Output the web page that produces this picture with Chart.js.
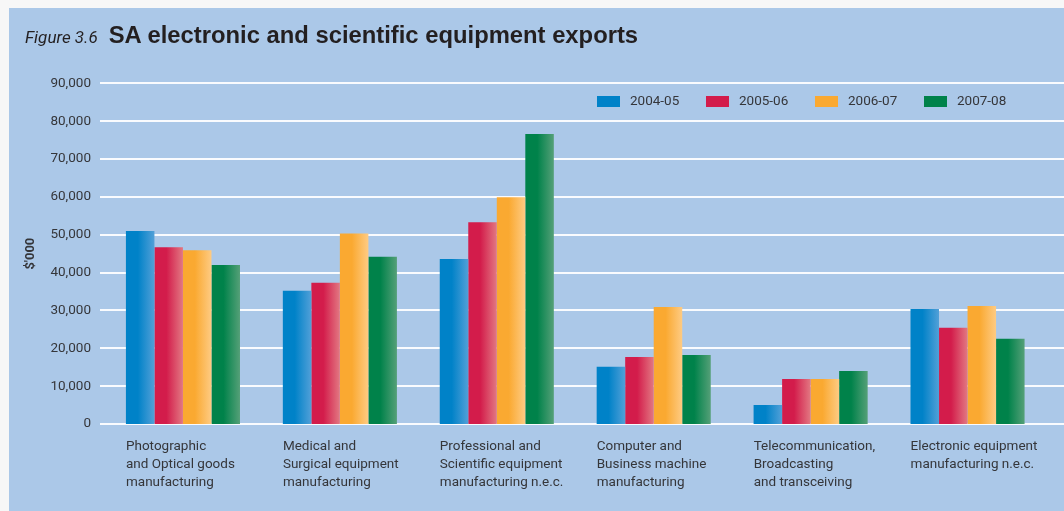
<!DOCTYPE html>
<html lang="en">
<head>
<meta charset="UTF-8">
<title>SA electronic and scientific equipment exports</title>
<script src="https://cdn.jsdelivr.net/npm/chart.js@4.4.6/dist/chart.umd.min.js"></script>
<style>
  html, body { margin: 0; padding: 0; }
  body {
    width: 1064px;
    height: 511px;
    background: #f7f7f7;
    position: relative;
    overflow: hidden;
  }
  .panel {
    position: absolute;
    left: 9px; top: 8px; right: 0; bottom: 0;
    background: #abc8e8;
  }
  .title {
    position: absolute;
    left: 25px; top: 21px;
    display: flex;
    align-items: baseline;
    white-space: nowrap;
    color: #231f20;
  }
  .title .fig  { font: italic 17px Roboto, 'DejaVu Sans Condensed', sans-serif; }
  .title .name { font: bold 23.8px 'Liberation Sans', Arial, sans-serif; margin-left: 11px; }
  .wrap { position: absolute; left: 0; top: 0; width: 1064px; height: 511px; }
</style>
</head>
<body>
<div class="panel"></div>
<div class="wrap"><canvas id="chart"></canvas></div>
<div class="title"><span class="fig">Figure 3.6</span><span class="name">SA electronic and scientific equipment exports</span></div>

<script>
// ── Data ($'000) ─────────────────────────────────────────────────────────────
const categories = [
  ['Photographic', 'and Optical goods', 'manufacturing'],
  ['Medical and', 'Surgical equipment', 'manufacturing'],
  ['Professional and', 'Scientific equipment', 'manufacturing n.e.c.'],
  ['Computer and', 'Business machine', 'manufacturing'],
  ['Telecommunication,', 'Broadcasting', 'and transceiving'],
  ['Electronic equipment', 'manufacturing n.e.c.'],
];
const years = ['2004-05', '2005-06', '2006-07', '2007-08'];

const exports0405 = [51000, 35200, 43600, 15100,  5000, 30400];
const exports0506 = [46700, 37300, 53300, 17700, 11900, 25400];
const exports0607 = [45900, 50300, 59900, 30900, 11900, 31200];
const exports0708 = [42000, 44200, 76600, 18200, 14000, 22500];

const yTicks = { min: 0, max: 90000, step: 10000 };

// ── Styles ───────────────────────────────────────────────────────────────────
const FONT = "Roboto, 'DejaVu Sans Condensed', sans-serif";
const TEXT = '#35363a';
// solid colour for the left of each bar, lighter tint toward the right edge
const shades = [
  { solid: '#0082c8', light: '#52a0d8' },
  { solid: '#d31c4b', light: '#e27882' },
  { solid: '#faa931', light: '#fecb83' },
  { solid: '#00824a', light: '#55a078' },
];

const series = [exports0405, exports0506, exports0607, exports0708];

// White horizontal rules, running past the plot to the panel edge
const gridPlugin = {
  id: 'panelGrid',
  beforeDatasetsDraw(chart) {
    const { ctx } = chart;
    const y = chart.scales.y;
    ctx.save();
    ctx.strokeStyle = 'rgba(255,255,255,0.92)';
    ctx.lineWidth = 2;
    y.ticks.forEach(t => {
      const py = Math.round(y.getPixelForValue(t.value));
      ctx.beginPath();
      ctx.moveTo(100, py);
      ctx.lineTo(chart.width, py);
      ctx.stroke();
    });
    ctx.restore();
  },
};

// Horizontal shading on every bar
const shadePlugin = {
  id: 'barShade',
  beforeDatasetsDraw(chart) {
    const { ctx } = chart;
    chart.data.datasets.forEach((ds, di) => {
      const s = shades[di];
      chart.getDatasetMeta(di).data.forEach(bar => {
        const x0 = bar.x - bar.width / 2;
        const g = ctx.createLinearGradient(x0, 0, x0 + bar.width, 0);
        g.addColorStop(0, s.solid);
        g.addColorStop(0.42, s.solid);
        g.addColorStop(1, s.light);
        bar.options.backgroundColor = g;
      });
    });
  },
};

// Year key in the upper right of the plot
const keyPlugin = {
  id: 'yearKey',
  afterDatasetsDraw(chart) {
    const { ctx } = chart;
    ctx.save();
    ctx.font = '13.5px ' + FONT;
    ctx.textBaseline = 'middle';
    chart.data.datasets.forEach((ds, i) => {
      const x = 597 + i * 109;
      ctx.fillStyle = shades[i].solid;
      ctx.fillRect(x, 96, 23, 11);
      ctx.fillStyle = TEXT;
      ctx.fillText(ds.label, x + 33, 102);
    });
    ctx.restore();
  },
};

new Chart(document.getElementById('chart'), {
  type: 'bar',
  data: {
    labels: categories,
    datasets: series.map((values, i) => ({
      label: years[i],
      data: values,
      backgroundColor: () => shades[i].solid,
      borderWidth: 0,
      categoryPercentage: 0.727,
      barPercentage: 1,
    })),
  },
  options: {
    responsive: true,
    maintainAspectRatio: false,
    animation: false,
    layout: { padding: { top: 83.3, right: 18, bottom: 0, left: 0 } },
    plugins: {
      legend: { display: false },
      tooltip: { enabled: false },
    },
    scales: {
      x: {
        grid: { display: false, drawTicks: false },
        border: { display: false },
        ticks: {
          align: 'start',
          labelOffset: -57,
          padding: 13,
          maxRotation: 0,
          autoSkip: false,
          color: TEXT,
          font: { family: FONT, size: 13.5, lineHeight: 1.36 },
        },
        afterFit(scale) {
          scale.height = 87;
          // labels are left-aligned inside their slot, so no side padding is needed
          scale.paddingLeft = 0;
          scale.paddingRight = 0;
        },
      },
      y: {
        min: yTicks.min,
        max: yTicks.max,
        grid: { display: false, drawTicks: false },
        border: { display: false },
        ticks: {
          stepSize: yTicks.step,
          padding: 13.5,
          color: TEXT,
          font: { family: FONT, size: 13.5 },
          callback: v => v.toLocaleString('en-US'),
        },
        title: {
          display: true,
          text: "$'000",
          color: TEXT,
          font: { family: FONT, size: 13, weight: 'bold' },
          padding: { top: 23, bottom: 0 },
        },
        afterFit(scale) { scale.width = 104.5; },
      },
    },
  },
  plugins: [gridPlugin, shadePlugin, keyPlugin],
});
</script>
</body>
</html>
